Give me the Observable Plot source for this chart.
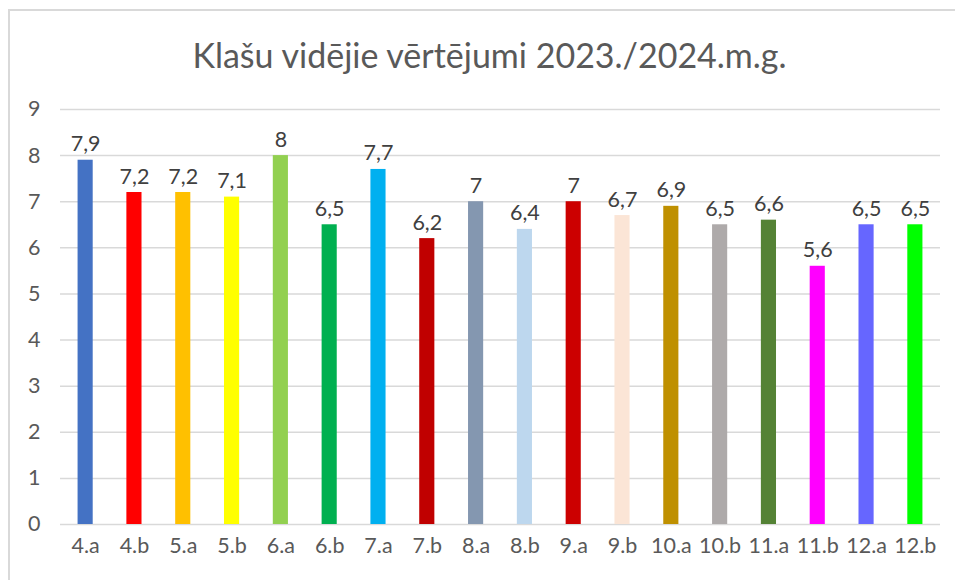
<!DOCTYPE html>
<html>
<head>
<meta charset="utf-8">
<script src="https://cdn.jsdelivr.net/npm/d3@7"></script>
<script src="https://cdn.jsdelivr.net/npm/@observablehq/plot@0.6"></script>
<style>
  html, body { margin: 0; padding: 0; background: #fff; }
  #wrap { position: relative; width: 955px; height: 580px; overflow: hidden; font-family: Lato, "Open Sans", sans-serif; }
  #frame { position: absolute; left: 8px; top: 9px; width: 960px; height: 600px; border: 2px solid #d9d9d9; box-sizing: border-box; }
  #title { position: absolute; left: 12px; width: 955px; top: 35px; text-align: center; font-size: 34px; line-height: 40px; color: #595959; }
  #chart { position: absolute; left: 0; top: 0; }
</style>
</head>
<body>
<div id="wrap">
  <div id="frame"></div>
  <div id="chart"></div>
  <div id="title">Klašu vidējie vērtējumi 2023./2024.m.g.</div>
</div>
<script>
const classes = ["4.a","4.b","5.a","5.b","6.a","6.b","7.a","7.b","8.a","8.b","9.a","9.b","10.a","10.b","11.a","11.b","12.a","12.b"];
const averages = [7.9,7.2,7.2,7.1,8,6.5,7.7,6.2,7,6.4,7,6.7,6.9,6.5,6.6,5.6,6.5,6.5];
const barColors = ["#4472C4","#FF0000","#FFC000","#FFFF00","#92D050","#00B050","#00B0F0","#C00000","#8497B0","#BDD7EE","#CC0000","#FBE5D6","#BF9000","#AEAAAA","#548235","#FF00FF","#6666FF","#00FF00"];
const yTicks = [0,1,2,3,4,5,6,7,8,9];

const data = classes.map((c, i) => ({cls: c, value: averages[i], color: barColors[i]}));

const chart = Plot.plot({
  width: 955,
  height: 580,
  marginTop: 109,
  marginBottom: 56,
  marginLeft: 60,
  marginRight: 15,
  style: {fontFamily: "Lato, 'Open Sans', sans-serif", fontSize: "21.5px", color: "#595959", background: "transparent"},
  x: {domain: classes, paddingInner: 0.69, paddingOuter: 0.36, round: false, label: null},
  y: {domain: [0, 9], label: null},
  marks: [
    Plot.ruleY(yTicks, {stroke: "#d9d9d9", strokeWidth: 1.5}),
    Plot.barY(data, {x: "cls", y: "value", fill: "color"}),
    Plot.text(data, {x: "cls", y: "value", text: d => String(d.value).replace(".", ","), lineAnchor: "bottom", dy: -9, fontSize: 21.5, fill: "#404040"}),
    Plot.axisY({ticks: yTicks, tickSize: 0, tickPadding: 20, fontSize: 21.5, fill: "#595959", label: null}),
    Plot.axisX({tickSize: 0, tickPadding: 13, fontSize: 21.5, fill: "#595959", label: null})
  ]
});
document.getElementById("chart").appendChild(chart);
</script>
</body>
</html>
